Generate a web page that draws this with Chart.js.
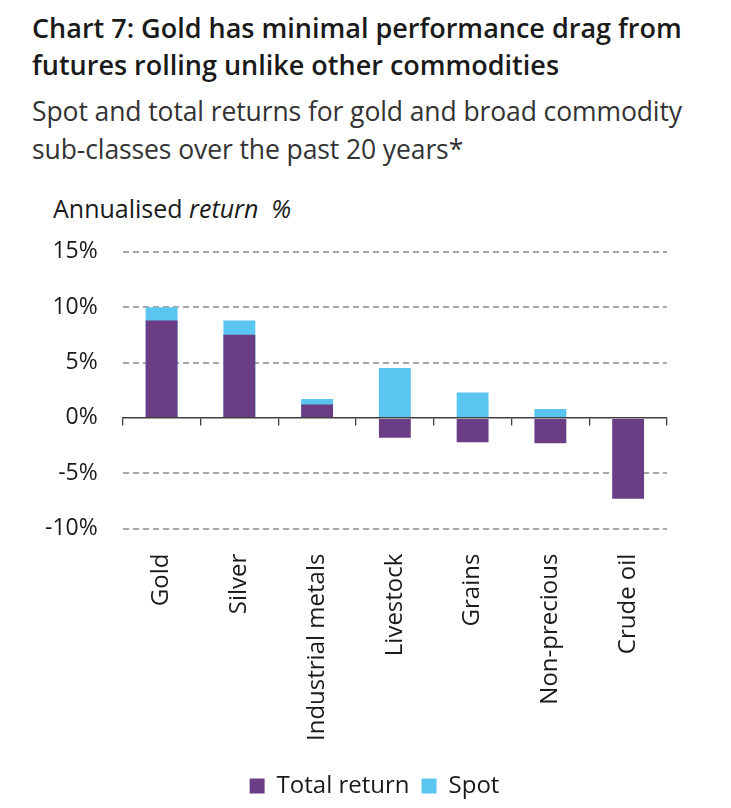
<!DOCTYPE html>
<html>
<head>
<meta charset="utf-8">
<script src="https://cdn.jsdelivr.net/npm/chart.js@4.4.1/dist/chart.umd.min.js"></script>
<style>
  body { margin: 0; background: #fff; font-family: "Open Sans", sans-serif; }
  #page { position: relative; width: 731px; height: 808px; overflow: hidden; }
  h1 { position: absolute; left: 32px; top: 9px; margin: 0; font-size: 27px; font-weight: 600; line-height: 37px; color: #1a1a1a; }
  h2 { position: absolute; left: 32px; top: 92px; margin: 0; font-size: 26.5px; font-weight: 400; line-height: 38px; color: #333; letter-spacing: -0.1px; }
  #unit { position: absolute; left: 53px; top: 191px; font-size: 25px; color: #1a1a1a; }
  #wrap { position: absolute; left: 0; top: 213px; width: 731px; height: 595px; }
</style>
</head>
<body>
<div id="page">
  <h1>Chart 7: Gold has minimal performance drag from<br>futures rolling unlike other commodities</h1>
  <h2>Spot and total returns for gold and broad commodity<br>sub-classes over the past 20 years*</h2>
  <div id="unit">Annualised <i>return&nbsp; %</i></div>
  <div id="wrap"><canvas id="myChart"></canvas></div>
</div>
<script>
const categories = ["Gold", "Silver", "Industrial metals", "Livestock", "Grains", "Non-precious", "Crude oil"];
const totalReturn = [8.8, 7.5, 1.2, -1.8, -2.2, -2.3, -7.3];
const spot = [10.0, 8.8, 1.7, 4.5, 2.3, 0.8, -0.2];
const yTicks = [-10, -5, 0, 5, 10, 15];

const ctx = document.getElementById("myChart");

// nudge the legend so it sits under the plot like in the original
const legendShift = {
  id: "legendShift",
  afterLayout(chart) {
    chart.legend.left += 31;
    chart.legend.right += 31;
  },
};

new Chart(ctx, {
  type: "bar",
  data: {
    labels: categories,
    datasets: [
      {
        label: "Total return",
        data: totalReturn,
        backgroundColor: "#6b3d84",
        grouped: false,
        barPercentage: 0.41,
        categoryPercentage: 1,
      },
      {
        label: "Spot",
        data: spot,
        backgroundColor: "#5bc5f2",
        grouped: false,
        barPercentage: 0.41,
        categoryPercentage: 1,
      },
    ],
  },
  plugins: [legendShift],
  options: {
    responsive: true,
    maintainAspectRatio: false,
    animation: false,
    layout: { padding: { left: 20, right: 64, top: 0, bottom: 0 } },
    plugins: {
      tooltip: { enabled: false },
      legend: {
        position: "bottom",
        labels: {
          boxWidth: 15,
          boxHeight: 15,
          padding: 12,
          color: "#1a1a1a",
          font: { family: "Open Sans", size: 24 },
        },
      },
    },
    scales: {
      x: {
        type: "category",
        position: { y: 0 },
        offset: true,
        grid: { display: true, offset: true, drawOnChartArea: false, drawTicks: true, tickLength: 7, color: "#404040", lineWidth: 1.3 },
        border: { display: true, color: "#404040", width: 1.5 },
        ticks: { display: false },
      },
      x2: {
        type: "category",
        position: "bottom",
        offset: true,
        grid: { display: false },
        border: { display: false },
        afterFit: (axis) => {
          axis.height += 4;
        },
        ticks: {
          minRotation: 90,
          maxRotation: 90,
          autoSkip: false,
          padding: 17,
          color: "#1a1a1a",
          font: { family: "Open Sans", size: 24 },
        },
      },
      y: {
        min: yTicks[0],
        max: yTicks[yTicks.length - 1],
        afterBuildTicks: (axis) => {
          axis.ticks = yTicks.map((v) => ({ value: v }));
        },
        grid: {
          drawTicks: false,
          lineWidth: 2,
          color: (c) => (c.tick && c.tick.value === 0 ? "rgba(0,0,0,0)" : "#a8a8a8"),
        },
        border: { display: false, dash: [6, 4] },
        ticks: {
          padding: 25,
          color: "#1a1a1a",
          font: { family: "Open Sans", size: 23 },
          callback: (v) => v + "%",
        },
      },
    },
  },
});
</script>
</body>
</html>
